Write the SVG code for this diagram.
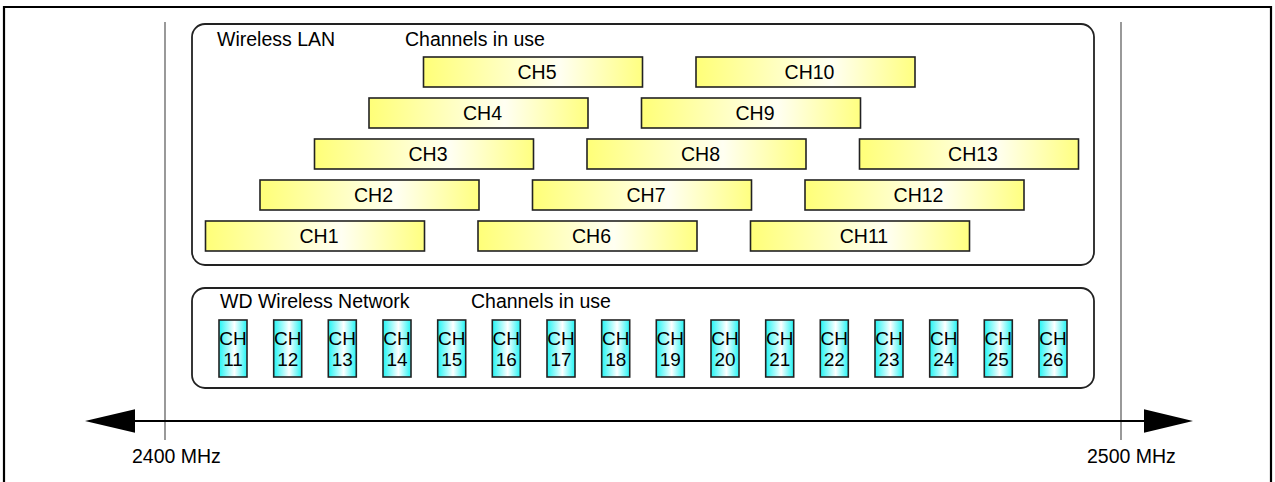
<svg xmlns="http://www.w3.org/2000/svg" width="1275" height="482" viewBox="0 0 1275 482">
<defs>
<linearGradient id="gy" x1="0" y1="0" x2="1" y2="0">
<stop offset="0" stop-color="#ffff78"/>
<stop offset="0.62" stop-color="#fffff2"/>
<stop offset="1" stop-color="#ffff80"/>
</linearGradient>
<linearGradient id="gc" x1="0" y1="0" x2="1" y2="0">
<stop offset="0" stop-color="#22f4f4"/>
<stop offset="0.55" stop-color="#ffffff"/>
<stop offset="1" stop-color="#22f4f4"/>
</linearGradient>
</defs>
<style>
text{font-family:"Liberation Sans",Arial,sans-serif;font-size:19.5px;fill:#000}
.c{text-anchor:middle}
.y{fill:url(#gy);stroke:#222;stroke-width:1.6}
.cy{fill:url(#gc);stroke:#222;stroke-width:1.6}
.cy-t{font-size:19px;text-anchor:middle}
.grp{fill:#fff;stroke:#222;stroke-width:1.8}
.axis{stroke:#000;stroke-width:2;fill:none}
.tick{stroke:#808080;stroke-width:1.6}
</style>
<rect width="1275" height="482" fill="#fff"/>
<path d="M4,482 V7 H1271 V482" fill="none" stroke="#000" stroke-width="2.2"/>
<g id="ticks">
<line class="tick" x1="165" y1="22" x2="165" y2="440"/>
<line class="tick" x1="1121" y1="22" x2="1121" y2="440"/>
</g>
<g id="wlan">
<rect class="grp" x="192" y="24" width="902" height="241" rx="13"/>
<text x="217" y="46">Wireless LAN</text>
<text x="405" y="46">Channels in use</text>
</g>
<g id="wlan-ch1"><rect class="y" x="205.5" y="221" width="219" height="30"/><text class="c" x="319" y="243">CH1</text></g>
<g id="wlan-ch2"><rect class="y" x="260" y="180" width="219" height="30"/><text class="c" x="373.5" y="202">CH2</text></g>
<g id="wlan-ch3"><rect class="y" x="314.5" y="139" width="219" height="30"/><text class="c" x="428" y="161">CH3</text></g>
<g id="wlan-ch4"><rect class="y" x="369" y="98" width="219" height="30"/><text class="c" x="482.5" y="120">CH4</text></g>
<g id="wlan-ch5"><rect class="y" x="423.5" y="57" width="219" height="30"/><text class="c" x="537" y="79">CH5</text></g>
<g id="wlan-ch6"><rect class="y" x="478" y="221" width="219" height="30"/><text class="c" x="591.5" y="243">CH6</text></g>
<g id="wlan-ch7"><rect class="y" x="532.5" y="180" width="219" height="30"/><text class="c" x="646" y="202">CH7</text></g>
<g id="wlan-ch8"><rect class="y" x="587" y="139" width="219" height="30"/><text class="c" x="700.5" y="161">CH8</text></g>
<g id="wlan-ch9"><rect class="y" x="641.5" y="98" width="219" height="30"/><text class="c" x="755" y="120">CH9</text></g>
<g id="wlan-ch10"><rect class="y" x="696" y="57" width="219" height="30"/><text class="c" x="809.5" y="79">CH10</text></g>
<g id="wlan-ch11"><rect class="y" x="750.5" y="221" width="219" height="30"/><text class="c" x="864" y="243">CH11</text></g>
<g id="wlan-ch12"><rect class="y" x="805" y="180" width="219" height="30"/><text class="c" x="918.5" y="202">CH12</text></g>
<g id="wlan-ch13"><rect class="y" x="859.5" y="139" width="219" height="30"/><text class="c" x="973" y="161">CH13</text></g>
<g id="wd">
<rect class="grp" x="192" y="288" width="902" height="100" rx="13"/>
<text x="220" y="308">WD Wireless Network</text>
<text x="471" y="308">Channels in use</text>
</g>
<g id="wd-ch11"><rect class="cy" x="219" y="320" width="28" height="57"/><text class="cy-t" x="233" y="345">CH</text><text class="cy-t" x="233" y="366">11</text></g>
<g id="wd-ch12"><rect class="cy" x="273.7" y="320" width="28" height="57"/><text class="cy-t" x="287.7" y="345">CH</text><text class="cy-t" x="287.7" y="366">12</text></g>
<g id="wd-ch13"><rect class="cy" x="328.3" y="320" width="28" height="57"/><text class="cy-t" x="342.3" y="345">CH</text><text class="cy-t" x="342.3" y="366">13</text></g>
<g id="wd-ch14"><rect class="cy" x="383" y="320" width="28" height="57"/><text class="cy-t" x="397" y="345">CH</text><text class="cy-t" x="397" y="366">14</text></g>
<g id="wd-ch15"><rect class="cy" x="437.7" y="320" width="28" height="57"/><text class="cy-t" x="451.7" y="345">CH</text><text class="cy-t" x="451.7" y="366">15</text></g>
<g id="wd-ch16"><rect class="cy" x="492.3" y="320" width="28" height="57"/><text class="cy-t" x="506.3" y="345">CH</text><text class="cy-t" x="506.3" y="366">16</text></g>
<g id="wd-ch17"><rect class="cy" x="547" y="320" width="28" height="57"/><text class="cy-t" x="561" y="345">CH</text><text class="cy-t" x="561" y="366">17</text></g>
<g id="wd-ch18"><rect class="cy" x="601.7" y="320" width="28" height="57"/><text class="cy-t" x="615.7" y="345">CH</text><text class="cy-t" x="615.7" y="366">18</text></g>
<g id="wd-ch19"><rect class="cy" x="656.3" y="320" width="28" height="57"/><text class="cy-t" x="670.3" y="345">CH</text><text class="cy-t" x="670.3" y="366">19</text></g>
<g id="wd-ch20"><rect class="cy" x="711" y="320" width="28" height="57"/><text class="cy-t" x="725" y="345">CH</text><text class="cy-t" x="725" y="366">20</text></g>
<g id="wd-ch21"><rect class="cy" x="765.7" y="320" width="28" height="57"/><text class="cy-t" x="779.7" y="345">CH</text><text class="cy-t" x="779.7" y="366">21</text></g>
<g id="wd-ch22"><rect class="cy" x="820.3" y="320" width="28" height="57"/><text class="cy-t" x="834.3" y="345">CH</text><text class="cy-t" x="834.3" y="366">22</text></g>
<g id="wd-ch23"><rect class="cy" x="875" y="320" width="28" height="57"/><text class="cy-t" x="889" y="345">CH</text><text class="cy-t" x="889" y="366">23</text></g>
<g id="wd-ch24"><rect class="cy" x="929.7" y="320" width="28" height="57"/><text class="cy-t" x="943.7" y="345">CH</text><text class="cy-t" x="943.7" y="366">24</text></g>
<g id="wd-ch25"><rect class="cy" x="984.3" y="320" width="28" height="57"/><text class="cy-t" x="998.3" y="345">CH</text><text class="cy-t" x="998.3" y="366">25</text></g>
<g id="wd-ch26"><rect class="cy" x="1039" y="320" width="28" height="57"/><text class="cy-t" x="1053" y="345">CH</text><text class="cy-t" x="1053" y="366">26</text></g>
<g id="connectors">
<line class="axis" x1="134" y1="421" x2="1145" y2="421"/>
<polygon points="85,421 135,409.3 135,432.7" fill="#000"/>
<polygon points="1193,421 1144,409.3 1144,432.7" fill="#000"/>
</g>
<g id="labels">
<text x="132" y="463">2400 MHz</text>
<text x="1087" y="463">2500 MHz</text>
</g>
</svg>
